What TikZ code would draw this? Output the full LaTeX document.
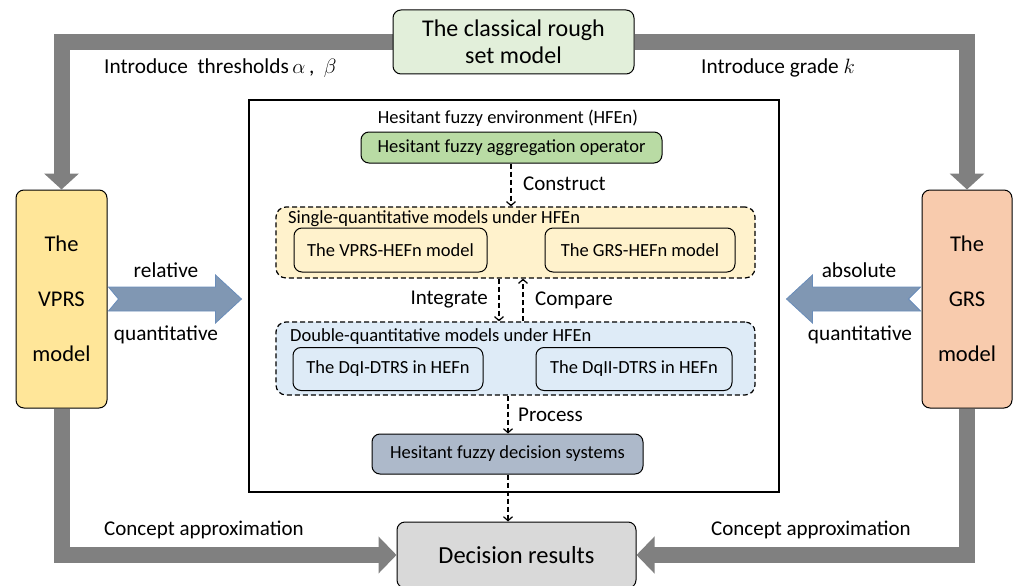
\documentclass[tikz,border=0pt]{standalone}
\usepackage{fontspec}
\setmainfont{Carlito}
\usetikzlibrary{arrows.meta,calc,backgrounds}
\definecolor{topgreen}{HTML}{E2EFDA}
\definecolor{agggreen}{HTML}{B9DBA4}
\definecolor{vprsfill}{HTML}{FFE699}
\definecolor{grsfill}{HTML}{F8CBAD}
\definecolor{singlefill}{HTML}{FFF2CC}
\definecolor{doublefill}{HTML}{DEEBF7}
\definecolor{hfdsfill}{HTML}{ADB9CA}
\definecolor{decfill}{HTML}{D9D9D9}
\definecolor{bigarrowgray}{HTML}{808080}
\definecolor{bluefill}{HTML}{8097B3}
\definecolor{blueedge}{HTML}{6A8DBA}
\newcommand{\fs}[2]{\fontsize{#1}{#2}\selectfont}
\begin{document}
\begin{tikzpicture}[x=1pt,y=-1pt,
  solidbox/.style={draw=black, line width=1pt, rounded corners=8pt, align=center, inner sep=0pt},
  dashbox/.style={draw=black, line width=1.2pt, dash pattern=on 5pt off 3pt, rounded corners=10pt, inner sep=0pt},
  bigarrow/.style={draw=bigarrowgray, line width=16pt, line join=miter, -{Triangle[length=16pt,width=34pt]}},
  bigarrowb/.style={draw=bigarrowgray, line width=16pt, line join=miter, -{Triangle[length=18pt,width=36pt]}},
  dasharrow/.style={draw=black, line width=1.2pt, dash pattern=on 5pt off 3pt, -{Straight Barb[length=4pt,width=9pt,line width=1.2pt]}},
  bluearrow/.style={fill=bluefill, draw=blueedge, line width=0.8pt},
  lbl/.style={inner sep=0pt}
]
\useasboundingbox (0,0) rectangle (1015,586);

% main boxes
\node[solidbox, fill=topgreen, minimum width=241pt, minimum height=64pt, font=\fs{24}{27}] (top) at (513.5,42) {The classical rough\\set model};
\node[solidbox, fill=vprsfill, minimum width=91pt, minimum height=218pt, font=\fs{22.5}{55}] (vprs) at (61.5,299) {The\\VPRS\\model};
\node[solidbox, fill=grsfill, minimum width=90pt, minimum height=218pt, font=\fs{22.5}{55}] (grs) at (967,299) {The\\GRS\\model};
\node[solidbox, fill=decfill, minimum width=239pt, minimum height=66pt, font=\fs{24.5}{28}] (dec) at (516.5,555) {Decision results};

% frame
\node[draw=black, line width=1.2pt, minimum width=530pt, minimum height=392pt, inner sep=0pt] (frame) at (514,296) {};
\node[lbl, font=\fs{18.5}{21}] (envtitle) at (508,118) {Hesitant fuzzy environment (HFEn)};
\node[solidbox, fill=agggreen, minimum width=301pt, minimum height=31pt, font=\fs{18.5}{21}] (agg) at (511.5,147.5) {Hesitant fuzzy aggregation operator};

\node[dashbox, fill=singlefill, minimum width=479pt, minimum height=71pt] (single) at (515.5,242.5) {};
\node[lbl, anchor=west, font=\fs{18.5}{21}] (singletitle) at (288,219) {Single-quantitative models under HFEn};
\node[solidbox, fill=singlefill, minimum width=193pt, minimum height=44pt, font=\fs{18.5}{21}] (vprsh) at (390.5,250) {The VPRS-HEFn model};
\node[solidbox, fill=singlefill, minimum width=190pt, minimum height=44pt, font=\fs{18.5}{21}] (grsh) at (640,250) {The GRS-HEFn model};

\node[dashbox, fill=doublefill, minimum width=479pt, minimum height=73pt] (double) at (515.5,358.5) {};
\node[lbl, anchor=west, font=\fs{18.5}{21}] (doubletitle) at (290,337) {Double-quantitative models under HFEn};
\node[solidbox, fill=doublefill, minimum width=190pt, minimum height=43pt, font=\fs{18.5}{21}] (dq1) at (388,369) {The DqI-DTRS in HEFn};
\node[solidbox, fill=doublefill, minimum width=196pt, minimum height=43pt, font=\fs{18.5}{21}] (dq2) at (634,369) {The DqII-DTRS in HEFn};

\node[solidbox, fill=hfdsfill, minimum width=271pt, minimum height=40pt, font=\fs{18.5}{21}] (hfds) at (507.5,454) {Hesitant fuzzy decision systems};

% axes for the dashed connectors
\coordinate (axc) at (511,0);
\coordinate (axi) at (499,0);
\coordinate (axm) at (523,0);
\coordinate (axp) at (508,0);

% dashed connectors
\draw[dasharrow] (agg.south -| axc) -- (single.north -| axc);
\draw[dasharrow] (single.south -| axi) -- (double.north -| axi);
\draw[dasharrow] (double.north -| axm) -- (single.south -| axm);
\draw[dasharrow] (double.south -| axp) -- (hfds.north -| axp);
\draw[dasharrow] (hfds.south -| axp) -- (dec.north -| axp);

\node[lbl, anchor=west, font=\fs{21}{24}] (lconstruct) at (523,184) {Construct};
\node[lbl, anchor=east, font=\fs{21}{24}] (lintegrate) at (488,300) {Integrate};
\node[lbl, anchor=west, font=\fs{21}{24}] (lcompare) at (535,300) {Compare};
\node[lbl, anchor=west, font=\fs{21}{24}] (lprocess) at (518,415) {Process};

% big gray connectors
\begin{scope}[on background layer]
\draw[bigarrow] (top.west) -| (vprs.north);
\draw[bigarrow] (top.east) -| (grs.north);
\draw[bigarrowb] (vprs.south) |- (dec.west);
\draw[bigarrowb] (grs.south) |- (dec.east);
\end{scope}

\node[lbl, anchor=west, font=\fs{21.3}{24}] (lthr) at (104,68) {Introduce~ thresholds\,$\alpha$\,,~ $\beta$};
\node[lbl, anchor=west, font=\fs{21.3}{24}] (lgrade) at (701,68) {Introduce grade $k$};
\node[lbl, anchor=west, font=\fs{21}{24}] (lca1) at (104,530) {Concept approximation};
\node[lbl, anchor=west, font=\fs{21}{24}] (lca2) at (711,530) {Concept approximation};

% blue arrows
\draw[bluearrow] ($(vprs.east)+(1,-12)$) -- ($(vprs.east)+(108,-12)$) -- ($(vprs.east)+(108,-24)$)
  -- ($(vprs.east)+(134,0)$) -- ($(vprs.east)+(108,24)$) -- ($(vprs.east)+(108,12)$)
  -- ($(vprs.east)+(1,12)$) -- ($(vprs.east)+(11,0)$) -- cycle;
\draw[bluearrow] ($(grs.west)+(-1,-12)$) -- ($(grs.west)+(-109,-12)$) -- ($(grs.west)+(-109,-24)$)
  -- ($(grs.west)+(-135,0)$) -- ($(grs.west)+(-109,24)$) -- ($(grs.west)+(-109,12)$)
  -- ($(grs.west)+(-1,12)$) -- ($(grs.west)+(-13,0)$) -- cycle;
\node[lbl, font=\fs{21.3}{24}] (lrel) at (166,270) {relative};
\node[lbl, font=\fs{21.3}{24}] (lq1) at (166,335) {quantitative};
\node[lbl, font=\fs{21.3}{24}] (labs) at (859,270) {absolute};
\node[lbl, font=\fs{21.3}{24}] (lq2) at (860,335) {quantitative};
\end{tikzpicture}
\end{document}
